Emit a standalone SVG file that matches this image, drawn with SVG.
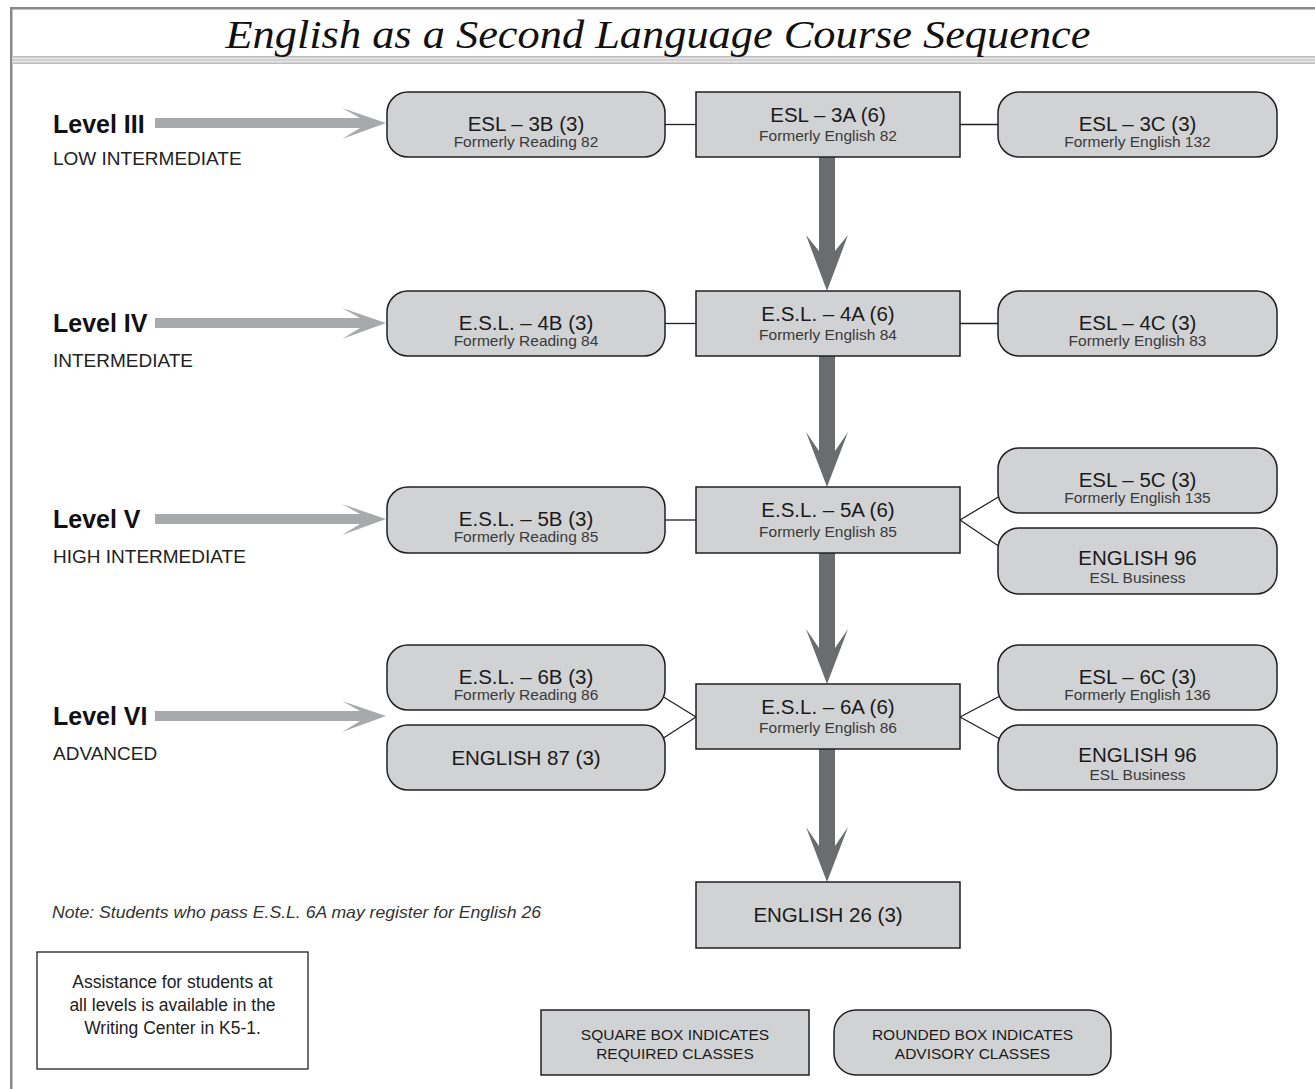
<svg xmlns="http://www.w3.org/2000/svg" width="1315" height="1089" viewBox="0 0 1315 1089">
<style>
  .sq { fill:#d1d2d4; stroke:#231f20; stroke-width:1.5; }
  .rd { fill:#d1d2d4; stroke:#231f20; stroke-width:1.5; }
  .lbl { font-family:"Liberation Sans", Arial, sans-serif; font-size:20.5px; fill:#1a1a1a; text-anchor:middle; }
  .sub { font-family:"Liberation Sans", Arial, sans-serif; font-size:15.5px; fill:#3a3a3a; text-anchor:middle; }
  .lvl { font-family:"Liberation Sans", Arial, sans-serif; font-size:25px; font-weight:bold; fill:#111; }
  .lvs { font-family:"Liberation Sans", Arial, sans-serif; font-size:19px; fill:#222; }
  .ln { stroke:#231f20; stroke-width:1.3; fill:none; }
  .big { fill:#6b6c6f; }
  .lv { fill:#a8a9ab; }
  .leg { font-family:"Liberation Sans", Arial, sans-serif; font-size:15.5px; fill:#1a1a1a; text-anchor:middle; }
  .note { font-family:"Liberation Sans", Arial, sans-serif; font-size:17px; font-style:italic; fill:#333; }
  .asst { font-family:"Liberation Sans", Arial, sans-serif; font-size:17.5px; fill:#222; text-anchor:middle; }
</style>
<rect x="0" y="0" width="1315" height="1089" fill="#ffffff"/>
<g id="frame">
  <rect x="10" y="7" width="1305" height="2.5" fill="#888888"/>
  <rect x="10" y="7" width="2.5" height="1082" fill="#888888"/>
  <rect x="12.5" y="56" width="1302.5" height="8" fill="#e6e6e6"/>
  <rect x="12.5" y="56" width="1302.5" height="1.5" fill="#bdbdbd"/>
  <rect x="12.5" y="59.3" width="1302.5" height="1.4" fill="#c9c9c9"/>
  <rect x="12.5" y="62.5" width="1302.5" height="1.5" fill="#bdbdbd"/>
  <text x="658" y="48" font-family="Liberation Serif, 'Times New Roman', serif" font-style="italic" font-size="41" fill="#111" text-anchor="middle" textLength="865" lengthAdjust="spacingAndGlyphs">English as a Second Language Course Sequence</text>
</g>
<g id="connectors">
  <line class="ln" x1="665" y1="124.5" x2="696" y2="124.5"/>
  <line class="ln" x1="960" y1="124.5" x2="998" y2="124.5"/>
  <line class="ln" x1="665" y1="323.5" x2="696" y2="323.5"/>
  <line class="ln" x1="960" y1="323.5" x2="998" y2="323.5"/>
  <line class="ln" x1="665" y1="520" x2="696" y2="520"/>
  <line class="ln" x1="960" y1="520" x2="1000" y2="496"/>
  <line class="ln" x1="960" y1="520" x2="1000" y2="547"/>
  <line class="ln" x1="662" y1="696" x2="696" y2="717"/>
  <line class="ln" x1="662" y1="739" x2="696" y2="717"/>
  <line class="ln" x1="960" y1="717" x2="1000" y2="696"/>
  <line class="ln" x1="960" y1="717" x2="1000" y2="739"/>
  <polygon class="big" points="819,157 835,157 835,251 848,235 827,291 806,235 819,251"/>
  <polygon class="big" points="819,356 835,356 835,451 848,432 827,487 806,432 819,451"/>
  <polygon class="big" points="819,553 835,553 835,648 848,629 827,684 806,629 819,648"/>
  <polygon class="big" points="819,749 835,749 835,846 848,827 827,882 806,827 819,846"/>
  <polygon class="lv" points="155,118 360,118 342,108 386,123 342,139 360,128 155,128"/>
  <polygon class="lv" points="155,318 360,318 342,308 386,323 342,339 360,328 155,328"/>
  <polygon class="lv" points="155,514 360,514 342,504 386,519 342,535 360,524 155,524"/>
  <polygon class="lv" points="155,711 360,711 342,701 386,716 342,732 360,721 155,721"/>
</g>
<g id="level3"><text class="lvl" x="53" y="133">Level III</text><text class="lvs" x="53" y="165">LOW INTERMEDIATE</text></g>
<g id="level4"><text class="lvl" x="53" y="332">Level IV</text><text class="lvs" x="53" y="367">INTERMEDIATE</text></g>
<g id="level5"><text class="lvl" x="53" y="528">Level V</text><text class="lvs" x="53" y="563">HIGH INTERMEDIATE</text></g>
<g id="level6"><text class="lvl" x="53" y="725">Level VI</text><text class="lvs" x="53" y="760">ADVANCED</text></g>

<g id="esl3b"><rect class="rd" x="387" y="92" width="278" height="65" rx="21"/><text class="lbl" x="526" y="131">ESL – 3B (3)</text><text class="sub" x="526" y="147">Formerly Reading 82</text></g>
<g id="esl3a"><rect class="sq" x="696" y="92" width="264" height="65"/><text class="lbl" x="828" y="122">ESL – 3A (6)</text><text class="sub" x="828" y="141">Formerly English 82</text></g>
<g id="esl3c"><rect class="rd" x="998" y="92" width="279" height="65" rx="21"/><text class="lbl" x="1137.5" y="131">ESL – 3C (3)</text><text class="sub" x="1137.5" y="147">Formerly English 132</text></g>

<g id="esl4b"><rect class="rd" x="387" y="291" width="278" height="65" rx="21"/><text class="lbl" x="526" y="330">E.S.L. – 4B (3)</text><text class="sub" x="526" y="346">Formerly Reading 84</text></g>
<g id="esl4a"><rect class="sq" x="696" y="291" width="264" height="65"/><text class="lbl" x="828" y="321">E.S.L. – 4A (6)</text><text class="sub" x="828" y="340">Formerly English 84</text></g>
<g id="esl4c"><rect class="rd" x="998" y="291" width="279" height="65" rx="21"/><text class="lbl" x="1137.5" y="330">ESL – 4C (3)</text><text class="sub" x="1137.5" y="346">Formerly English 83</text></g>

<g id="esl5b"><rect class="rd" x="387" y="487" width="278" height="66" rx="21"/><text class="lbl" x="526" y="526">E.S.L. – 5B (3)</text><text class="sub" x="526" y="542">Formerly Reading 85</text></g>
<g id="esl5a"><rect class="sq" x="696" y="487" width="264" height="66"/><text class="lbl" x="828" y="517">E.S.L. – 5A (6)</text><text class="sub" x="828" y="537">Formerly English 85</text></g>
<g id="esl5c"><rect class="rd" x="998" y="448" width="279" height="65" rx="21"/><text class="lbl" x="1137.5" y="487">ESL – 5C (3)</text><text class="sub" x="1137.5" y="503">Formerly English 135</text></g>
<g id="eng96a"><rect class="rd" x="998" y="528" width="279" height="66" rx="21"/><text class="lbl" x="1137.5" y="565">ENGLISH 96</text><text class="sub" x="1137.5" y="583">ESL Business</text></g>

<g id="esl6b"><rect class="rd" x="387" y="645" width="278" height="65" rx="21"/><text class="lbl" x="526" y="684">E.S.L. – 6B (3)</text><text class="sub" x="526" y="700">Formerly Reading 86</text></g>
<g id="eng87"><rect class="rd" x="387" y="725" width="278" height="65" rx="21"/><text class="lbl" x="526" y="765">ENGLISH 87 (3)</text></g>
<g id="esl6a"><rect class="sq" x="696" y="684" width="264" height="65"/><text class="lbl" x="828" y="714">E.S.L. – 6A (6)</text><text class="sub" x="828" y="733">Formerly English 86</text></g>
<g id="esl6c"><rect class="rd" x="998" y="645" width="279" height="65" rx="21"/><text class="lbl" x="1137.5" y="684">ESL – 6C (3)</text><text class="sub" x="1137.5" y="700">Formerly English 136</text></g>
<g id="eng96b"><rect class="rd" x="998" y="725" width="279" height="65" rx="21"/><text class="lbl" x="1137.5" y="762">ENGLISH 96</text><text class="sub" x="1137.5" y="780">ESL Business</text></g>

<g id="eng26"><rect class="sq" x="696" y="882" width="264" height="66"/><text class="lbl" x="828" y="922">ENGLISH 26 (3)</text></g>

<g id="note"><text class="note" x="52" y="918" textLength="489" lengthAdjust="spacingAndGlyphs">Note: Students who pass E.S.L. 6A may register for English 26</text></g>
<g id="assist"><rect x="37" y="952" width="271" height="117" fill="#ffffff" stroke="#231f20" stroke-width="1.3"/>
  <text class="asst" x="172.5" y="988">Assistance for students at</text>
  <text class="asst" x="172.5" y="1011">all levels is available in the</text>
  <text class="asst" x="172.5" y="1034">Writing Center in K5-1.</text></g>
<g id="legend-square"><rect class="sq" x="541" y="1010" width="268" height="65"/><text class="leg" x="675" y="1040">SQUARE BOX INDICATES</text><text class="leg" x="675" y="1059">REQUIRED CLASSES</text></g>
<g id="legend-rounded"><rect class="rd" x="834" y="1010" width="277" height="65" rx="22"/><text class="leg" x="972.5" y="1040">ROUNDED BOX INDICATES</text><text class="leg" x="972.5" y="1059">ADVISORY CLASSES</text></g>
</svg>
